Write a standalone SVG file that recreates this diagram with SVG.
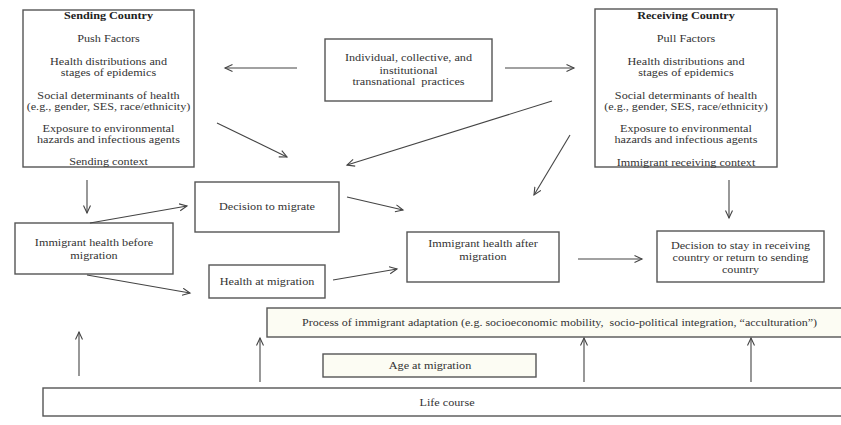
<svg xmlns="http://www.w3.org/2000/svg" width="841" height="425" viewBox="0 0 841 425">
<style>
.box{fill:#ffffff;stroke:#555555;stroke-width:1.4}
.cream{fill:#fcfcf3;stroke:#555555;stroke-width:1.4}
.t{font-family:"Liberation Serif","Times New Roman",serif;font-size:10.5px;fill:#333333;text-anchor:middle}
.b{font-weight:bold;fill:#222222}
.c line{stroke:#444444;stroke-width:1.1;marker-end:url(#ah)}
</style>
<defs>
<marker id="ah" markerWidth="10" markerHeight="10" refX="8" refY="4" orient="auto" markerUnits="userSpaceOnUse">
<path d="M0.5,0.5 L8,4 L0.5,7.5" fill="none" stroke="#444444" stroke-width="1.1"/>
</marker>
</defs>
<rect width="841" height="425" fill="#ffffff"/>

<g id="sending">
<rect class="box" x="23" y="10" width="171" height="157"/>
<g transform="translate(108.5 0) scale(1.16 1)">
<text class="t b" x="0" y="19.5">Sending Country</text>
<text class="t" x="0" y="42.5">Push Factors</text>
<text class="t" x="0" y="65.5">Health distributions and</text>
<text class="t" x="0" y="76.5">stages of epidemics</text>
<text class="t" x="0" y="99.5">Social determinants of health</text>
<text class="t" x="0" y="110">(e.g., gender, SES, race/ethnicity)</text>
<text class="t" x="0" y="132.5">Exposure to environmental</text>
<text class="t" x="0" y="143.5">hazards and infectious agents</text>
<text class="t" x="0" y="165.5">Sending context</text>
</g>
</g>

<g id="receiving">
<rect class="box" x="595" y="9" width="182" height="158"/>
<g transform="translate(686 0) scale(1.16 1)">
<text class="t b" x="0" y="19.5">Receiving Country</text>
<text class="t" x="0" y="42.5">Pull Factors</text>
<text class="t" x="0" y="65">Health distributions and</text>
<text class="t" x="0" y="76">stages of epidemics</text>
<text class="t" x="0" y="99">Social determinants of health</text>
<text class="t" x="0" y="110.5">(e.g., gender, SES, race/ethnicity)</text>
<text class="t" x="0" y="132.5">Exposure to environmental</text>
<text class="t" x="0" y="143.5">hazards and infectious agents</text>
<text class="t" x="0" y="166">Immigrant receiving context</text>
</g>
</g>

<g id="transnational">
<rect class="box" x="325" y="39" width="167" height="62"/>
<g transform="translate(408.5 0) scale(1.16 1)">
<text class="t" x="0" y="61.5">Individual, collective, and</text>
<text class="t" x="0" y="74">institutional</text>
<text class="t" x="0" y="85.5">transnational&#160; practices</text>
</g>
</g>

<g id="decision">
<rect class="box" x="195" y="182" width="144" height="50"/>
<g transform="translate(267 0) scale(1.16 1)">
<text class="t" x="0" y="210.5">Decision to migrate</text>
</g>
</g>

<g id="health-before">
<rect class="box" x="15" y="223" width="158" height="51"/>
<g transform="translate(94 0) scale(1.16 1)">
<text class="t" x="0" y="246">Immigrant health before</text>
<text class="t" x="0" y="259">migration</text>
</g>
</g>

<g id="health-at">
<rect class="box" x="209" y="265" width="116" height="33"/>
<g transform="translate(267 0) scale(1.16 1)">
<text class="t" x="0" y="285.5">Health at migration</text>
</g>
</g>

<g id="health-after">
<rect class="box" x="407" y="232" width="152" height="50"/>
<g transform="translate(483 0) scale(1.16 1)">
<text class="t" x="0" y="247">Immigrant health after</text>
<text class="t" x="0" y="260">migration</text>
</g>
</g>

<g id="stay-return">
<rect class="box" x="657" y="231" width="167" height="51"/>
<g transform="translate(740.5 0) scale(1.16 1)">
<text class="t" x="0" y="249">Decision to stay in receiving</text>
<text class="t" x="0" y="261">country or return to sending</text>
<text class="t" x="0" y="273">country</text>
</g>
</g>

<g id="adaptation">
<rect class="cream" x="267" y="308" width="590" height="29"/>
<g transform="translate(559.5 0) scale(1.16 1)">
<text class="t" x="0" y="326.5" textLength="444" lengthAdjust="spacingAndGlyphs">Process of immigrant adaptation (e.g. socioeconomic mobility,&#160; socio-political integration, “acculturation”)</text>
</g>
</g>

<g id="age">
<rect class="cream" x="323" y="354" width="213" height="23"/>
<g transform="translate(430 0) scale(1.16 1)">
<text class="t" x="0" y="369.5">Age at migration</text>
</g>
</g>

<g id="lifecourse">
<rect class="box" x="43" y="388" width="814" height="28"/>
<g transform="translate(447 0) scale(1.16 1)">
<text class="t" x="0" y="406.5">Life course</text>
</g>
</g>

<g id="connectors" class="c">
<line x1="297" y1="68" x2="225" y2="68"/>
<line x1="505" y1="68" x2="574" y2="68"/>
<line x1="217" y1="123" x2="287" y2="157"/>
<line x1="552" y1="101" x2="347" y2="165"/>
<line x1="570" y1="135" x2="534" y2="195"/>
<line x1="87" y1="180" x2="87" y2="213"/>
<line x1="729" y1="180" x2="729" y2="218"/>
<line x1="90" y1="223" x2="187" y2="206"/>
<line x1="87" y1="275" x2="190" y2="293"/>
<line x1="347" y1="197" x2="403" y2="210"/>
<line x1="333" y1="280" x2="397" y2="269"/>
<line x1="578" y1="259" x2="642" y2="259"/>
<line x1="79" y1="376" x2="79" y2="332"/>
<line x1="260" y1="382" x2="260" y2="338"/>
<line x1="584" y1="382" x2="584" y2="338"/>
<line x1="751" y1="382" x2="751" y2="338"/>
</g>
</svg>
